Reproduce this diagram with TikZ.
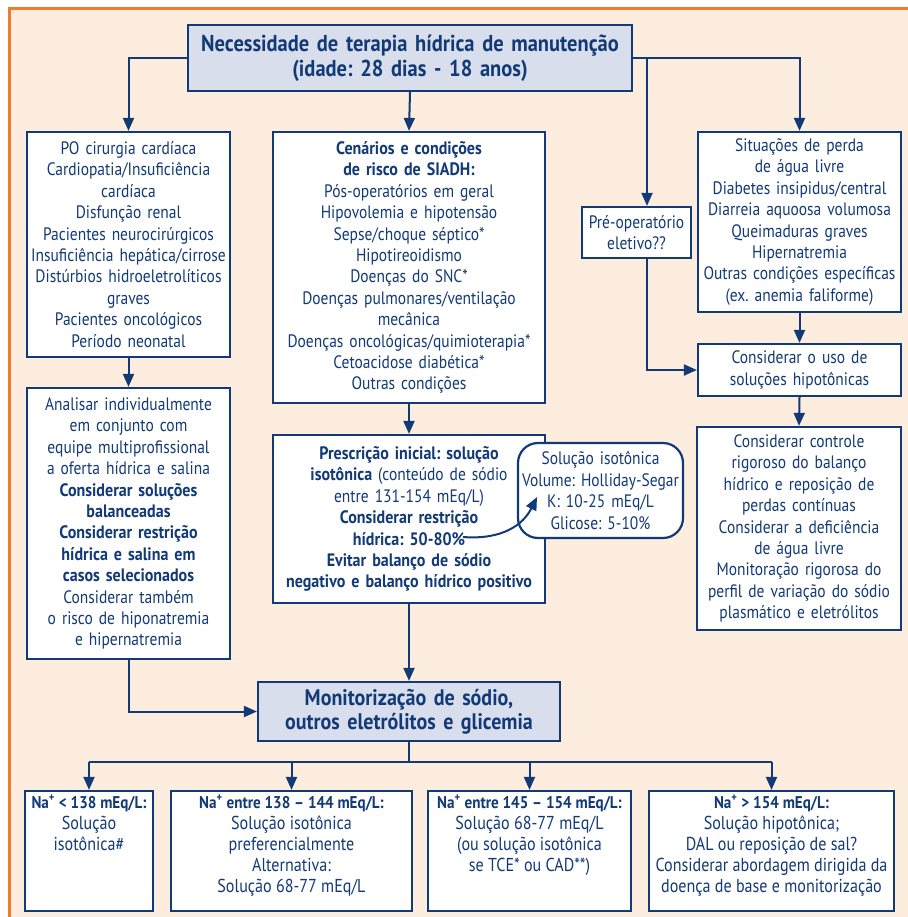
\documentclass[tikz,border=0pt]{standalone}
\usepackage{fontspec}
\setmainfont{PT Sans}[FakeStretch=0.86,BoldFeatures={FakeStretch=0.89}]
\usetikzlibrary{arrows.meta,calc}
\definecolor{navy}{RGB}{18,58,118}
\definecolor{peach}{RGB}{253,237,222}
\definecolor{lav}{RGB}{217,222,237}
\definecolor{framecol}{RGB}{243,122,40}
\newcommand\bodyfont{\frenchspacing\fontsize{18}{21.4}\selectfont}
\newcommand\rangefont{\frenchspacing\fontsize{18.7}{21}\selectfont}
\newcommand\headfont{\frenchspacing\fontsize{23}{25}\selectfont\bfseries}
\newcommand\monfont{\frenchspacing\fontsize{22.5}{24.5}\selectfont\bfseries}
\newcommand\nafont{\fontsize{17}{22}\selectfont\bfseries}

\begin{document}
\begin{tikzpicture}[x=1pt,y=-1pt,
  box/.style={draw=navy,line width=2.2pt,fill=white,text=navy,align=center,inner sep=0pt,font=\bodyfont},
  hbox/.style={box,fill=lav,font=\headfont},
  txt/.style={text=navy,align=center,inner sep=0pt,font=\rangefont},
  arr/.style={draw=navy,line width=2pt,-{Triangle[length=13pt,width=11pt]}},
  ln/.style={draw=navy,line width=2pt},
]
\useasboundingbox (0,0) rectangle (907,917);
% page background and orange frame
\fill[white] (0,0) rectangle (907,917);
\fill[peach] (9,9) rectangle (910,920);
\draw[framecol,line width=3pt] (9,920) -- (9,9) -- (910,9);

% header
\node[hbox,minimum width=444pt,minimum height=66pt,text width=444pt] (top) at (410,58)
  {Necessidade de terapia hídrica de manutenção\\(idade: 28 dias - 18 anos)};

% first row
\node[box,minimum width=203pt,minimum height=225pt,text width=203pt] (lbox) at (128.5,244.5)
  {PO cirurgia cardíaca\\Cardiopatia/Insuficiência\\cardíaca\\Disfunção renal\\Pacientes neurocirúrgicos\\Insuficiência hepática/cirrose\\Distúrbios hidroeletrolíticos\\graves\\Pacientes oncológicos\\Período neonatal};

\node[box,minimum width=272pt,minimum height=271pt,text width=272pt] (siadh) at (409,267.5)
  {{\bfseries Cenários e condições\\de risco de SIADH:}\\Pós-operatórios em geral\\Hipovolemia e hipotensão\\Sepse/choque séptico*\\Hipotireoidismo\\Doenças do SNC*\\Doenças pulmonares/ventilação\\mecânica\\Doenças oncológicas/quimioterapia*\\Cetoacidose diabética*\\Outras condições};

\node[box,minimum width=109pt,minimum height=51pt,text width=109pt] (preop) at (636.5,232.5)
  {Pré-operatório\\eletivo??};

\node[box,minimum width=203pt,minimum height=180pt,text width=203pt] (perda) at (799.5,222)
  {Situações de perda\\de água livre\\Diabetes insipidus/central\\Diarreia aquoosa volumosa\\Queimaduras graves\\Hipernatremia\\Outras condições específicas\\(ex. anemia faliforme)};

\node[box,minimum width=203pt,minimum height=52pt,text width=203pt] (hipot) at (799.5,370)
  {Considerar o uso de\\soluções hipotônicas};

% second row
\node[box,minimum width=203pt,minimum height=271pt,text width=203pt] (analisar) at (128.5,523.5)
  {Analisar individualmente\\em conjunto com\\equipe multiprofissional\\a oferta hídrica e salina\\{\bfseries Considerar soluções\\balanceadas\\Considerar restrição\\hídrica e salina em\\casos selecionados}\\Considerar também\\o risco de hiponatremia\\e hipernatremia};

\node[box,minimum width=272pt,minimum height=168pt,text width=272pt] (presc) at (409,519)
  {{\bfseries Prescrição inicial: solução\\isotônica} (conteúdo de sódio\\entre 131-154 mEq/L)\\{\bfseries Considerar restrição\\hídrica: 50-80\%\\Evitar balanço de sódio\\negativo e balanço hídrico positivo}};

\node[box,minimum width=204pt,minimum height=203pt,text width=204pt] (controle) at (799,528.5)
  {Considerar controle\\rigoroso do balanço\\hídrico e reposição de\\perdas contínuas\\Considerar a deficiência\\de água livre\\Monitoração rigorosa do\\perfil de variação do sódio\\plasmático e eletrólitos};

% monitoring
\node[hbox,font=\monfont,minimum width=302pt,minimum height=59pt,text width=302pt] (monitor) at (409,711.5)
  {Monitorização de sódio,\\outros eletrólitos e glicemia};

% sodium ranges
\node[box,minimum width=128pt,minimum height=120pt] (b1) at (89,851) {};
\node[box,minimum width=241pt,minimum height=120pt] (b2) at (291.5,851) {};
\node[box,minimum width=203pt,minimum height=120pt] (b3) at (529.5,851) {};
\node[box,minimum width=245pt,minimum height=120pt] (b4) at (771.5,851) {};

\node[txt,anchor=north] (b1t) at ([yshift=-5pt]b1.north)
  {{\nafont Na\textsuperscript{+} < 138 mEq/L:}\\Solução\\isotônica\#};
\node[txt,anchor=north] (b2t) at ([yshift=-5pt]b2.north)
  {{\nafont Na\textsuperscript{+} entre 138 – 144 mEq/L:}\\Solução isotônica\\preferencialmente\\Alternativa:\\Solução 68-77 mEq/L};
\node[txt,anchor=north] (b3t) at ([yshift=-5pt]b3.north)
  {{\nafont Na\textsuperscript{+} entre 145 – 154 mEq/L:}\\Solução 68-77 mEq/L\\(ou solução isotônica\\se TCE* ou CAD**)};
\node[txt,anchor=north] (b4t) at ([yshift=-5pt]b4.north)
  {{\nafont Na\textsuperscript{+} > 154 mEq/L:}\\Solução hipotônica;\\DAL ou reposição de sal?\\Considerar abordagem dirigida da\\doença de base e monitorização};

% connectors from the header
\coordinate (pj) at (647,58);
\draw[arr] (top.west) -| (lbox.north);
\draw[arr] (top.east) -| (perda.north);
\draw[arr] (pj) -- (pj |- preop.north);
\draw[arr] (top.south) -- (siadh.north);

\draw[arr] (lbox.south) -- (analisar.north);
\draw[arr] (siadh.south) -- (presc.north);
\draw[arr] (perda.south) -- (hipot.north);
\draw[arr] (pj |- preop.south) |- (hipot.west);
\draw[arr] (hipot.south) -- (controle.north);

\draw[arr] (analisar.south) |- (monitor.west);
\draw[arr] (presc.south) -- (monitor.north);

% fan-out to the sodium ranges
\draw[ln] (monitor.south) -- ++(0,20) coordinate (mj);
\draw[ln] (mj -| b1.north) -- (mj -| b4.north);
\foreach \b in {b1,b2,b3,b4}
  \draw[arr] (mj -| \b.north) -- (\b.north);

% isotonic solution callout
\node[box,rounded corners=20pt,minimum width=165pt,minimum height=95pt,text width=165pt] (iso) at (600.5,490.5)
  {Solução isotônica\\Volume: Holliday-Segar\\K: 10-25 mEq/L\\Glicose: 5-10\%};
\coordinate (cstart) at (463,537);
\coordinate (ctip) at (537,497);
\draw[arr] (cstart) .. controls (502,540) and (523,525) .. (ctip);
\end{tikzpicture}
\end{document}
